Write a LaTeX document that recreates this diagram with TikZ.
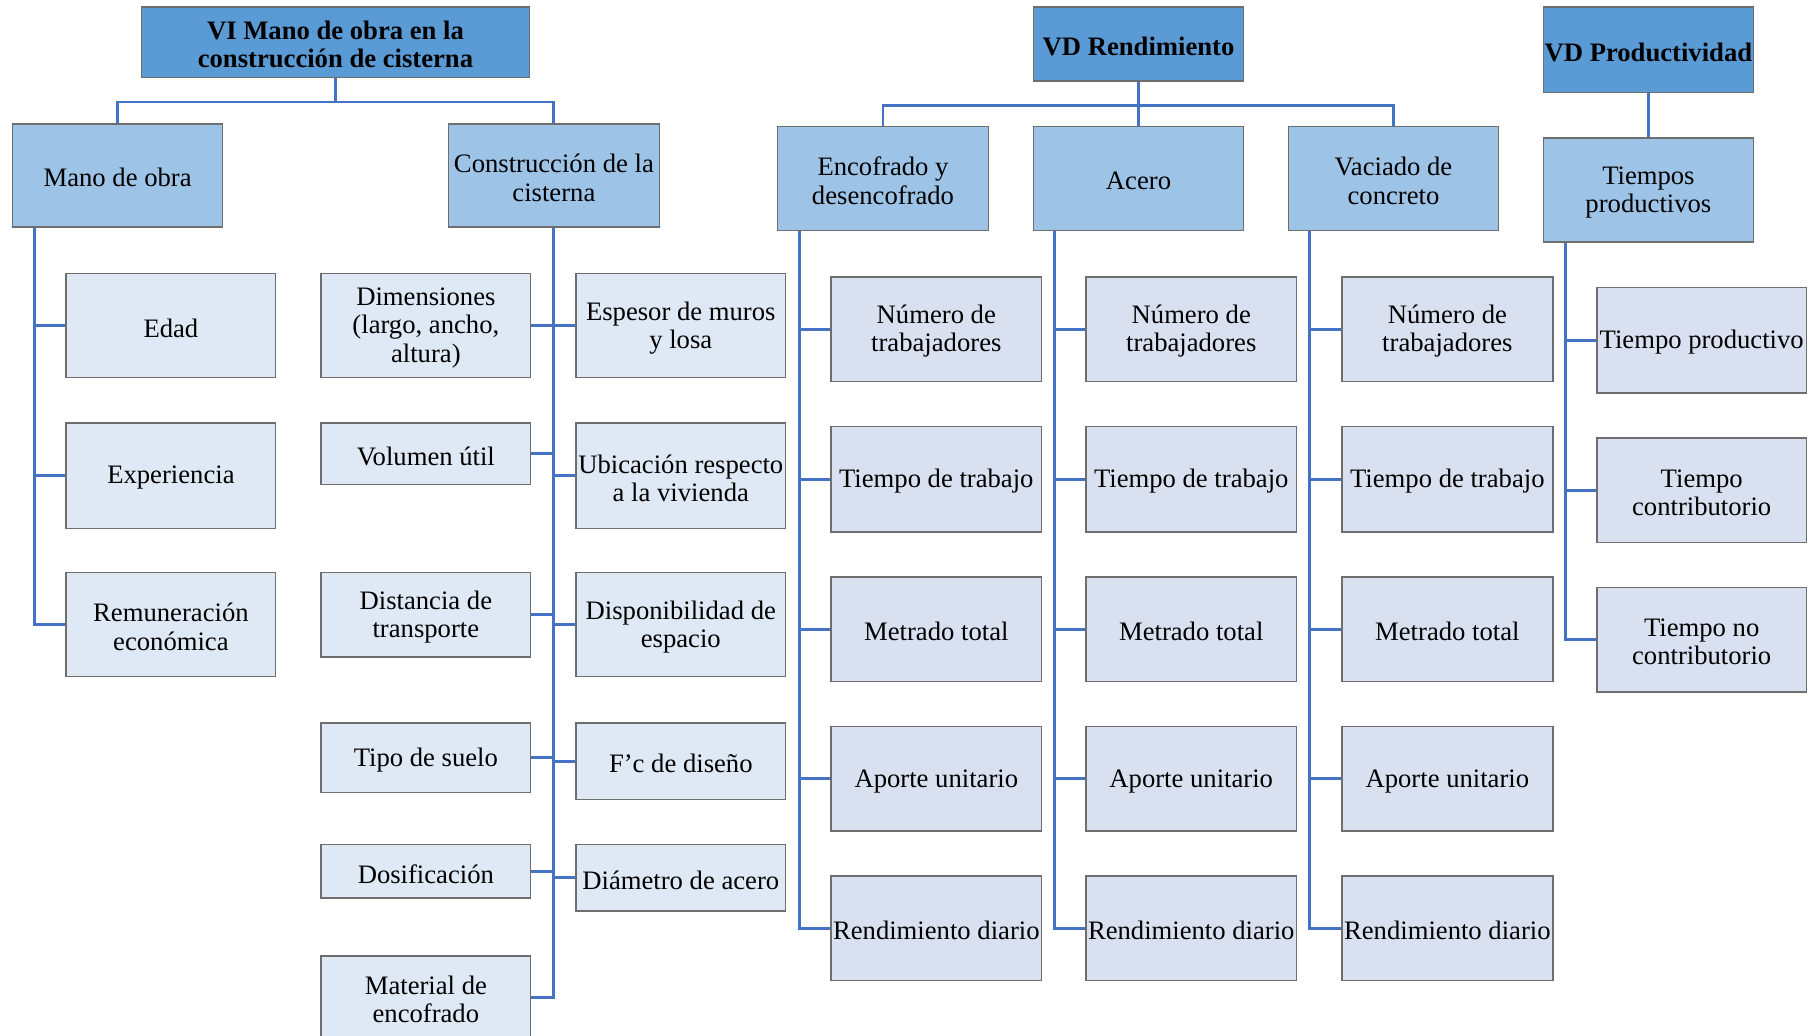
\documentclass[tikz,border=0pt]{standalone}
\usepackage{fontspec}
\setmainfont{Liberation Serif}
\usetikzlibrary{backgrounds}
\definecolor{titlefill}{HTML}{5B9BD5}
\definecolor{midfill}{HTML}{9DC3E6}
\definecolor{leafa}{HTML}{DEE9F5}
\definecolor{leafb}{HTML}{D9E0F0}
\definecolor{bordergray}{HTML}{6E6E6E}
\definecolor{lineblue}{HTML}{4472C4}
\newcommand\mybox[7]{\node[#2, minimum width={(#5-#3)*0.5pt}, minimum height={(#6-#4)*0.5pt},
  label={[boxtext]center:{#7}}] (#1) at ({(#3+#5)/2},{(#4+#6)/2}) {};}
\begin{document}
\begin{tikzpicture}[x=0.5pt,y=-0.5pt,
  boxtext/.style={inner sep=0pt, align=center, yshift=-1pt, font=\fontsize{11.5}{12.2}\selectfont},
  base/.style={draw=bordergray, line width=0.6pt, inner sep=0pt, outer sep=0pt},
  titlebox/.style={base, fill=titlefill},
  midbox/.style={base, fill=midfill},
  leafA/.style={base, fill=leafa},
  leafB/.style={base, fill=leafb},
  conn/.style={draw=lineblue, line width=1.25pt}]
\useasboundingbox (0,0) rectangle (1568,894);
\clip (0,0) rectangle (1568,894);
% titles
\mybox{vi}{titlebox}{122}{6}{457}{67}{\textbf{VI Mano de obra en la}\\\textbf{construcción de cisterna}}
\mybox{vdr}{titlebox}{892}{6}{1073}{70}{\textbf{VD Rendimiento}}
\mybox{vdp}{titlebox}{1332}{6}{1513}{80}{\textbf{VD Productividad}}
% level 2
\mybox{mano}{midbox}{11}{107}{192}{196}{Mano de obra}
\mybox{cons}{midbox}{387}{107}{569}{196}{Construcción de la\\cisterna}
\mybox{enc}{midbox}{671}{109}{853}{199}{Encofrado y\\desencofrado}
\mybox{ace}{midbox}{892}{109}{1073}{199}{Acero}
\mybox{vac}{midbox}{1112}{109}{1293}{199}{Vaciado de\\concreto}
\mybox{tp}{midbox}{1332}{119}{1513}{209}{Tiempos\\productivos}
% Mano de obra children
\mybox{edad}{leafA}{57}{236}{238}{326}{Edad}
\mybox{exp}{leafA}{57}{365}{238}{456}{Experiencia}
\mybox{rem}{leafA}{57}{494}{238}{584}{Remuneración\\económica}
% Construccion children left
\mybox{dim}{leafA}{277}{236}{458}{326}{Dimensiones\\(largo, ancho,\\altura)}
\mybox{vol}{leafA}{277}{365}{458}{418}{Volumen útil}
\mybox{dist}{leafA}{277}{494}{458}{567}{Distancia de\\transporte}
\mybox{suelo}{leafA}{277}{624}{458}{684}{Tipo de suelo}
\mybox{dos}{leafA}{277}{729}{458}{775}{Dosificación}
\mybox{mat}{leafA}{277}{825}{458}{896}{Material de\\encofrado}
% Construccion children right
\mybox{esp}{leafA}{497}{236}{678}{326}{Espesor de muros\\y losa}
\mybox{ubi}{leafA}{497}{365}{678}{456}{Ubicación respecto\\a la vivienda}
\mybox{disp}{leafA}{497}{494}{678}{584}{Disponibilidad de\\espacio}
\mybox{fc}{leafA}{497}{624}{678}{690}{F’c de diseño}
\mybox{diam}{leafA}{497}{729}{678}{786}{Diámetro de acero}
% Rendimiento children
\foreach \p/\xa in {e/717,a/937,v/1158}{
  \pgfmathsetmacro\xb{\xa+182}
  \mybox{\p1}{leafB}{\xa}{239}{\xb}{329}{Número de\\trabajadores}
  \mybox{\p2}{leafB}{\xa}{368}{\xb}{459}{Tiempo de trabajo}
  \mybox{\p3}{leafB}{\xa}{498}{\xb}{588}{Metrado total}
  \mybox{\p4}{leafB}{\xa}{627}{\xb}{717}{Aporte unitario}
  \mybox{\p5}{leafB}{\xa}{756}{\xb}{846}{Rendimiento diario}
}
% Productividad children
\mybox{t1}{leafB}{1378}{248}{1559}{339}{Tiempo productivo}
\mybox{t2}{leafB}{1378}{378}{1559}{468}{Tiempo\\contributorio}
\mybox{t3}{leafB}{1378}{507}{1559}{597}{Tiempo no\\contributorio}
\begin{scope}[on background layer]
\draw[conn] (vi.south) -- ++(0,21) -| (mano.north);
\draw[conn] (vi.south) -- ++(0,21) -| (cons.north);
\foreach \c in {edad,exp,rem} \draw[conn] ([xshift=9.5pt]mano.south west) |- (\c.west);
\foreach \c in {dim,vol,dist,suelo,dos,mat} \draw[conn] (cons.south) |- (\c.east);
\foreach \c in {esp,ubi,disp,fc,diam} \draw[conn] (cons.south) |- (\c.west);
\foreach \c in {enc,ace,vac} \draw[conn] (vdr.south) -- ++(0,21) -| (\c.north);
\foreach \i in {1,...,5}{
  \draw[conn] ([xshift=9.5pt]enc.south west) |- (e\i.west);
  \draw[conn] ([xshift=9pt]ace.south west) |- (a\i.west);
  \draw[conn] ([xshift=9pt]vac.south west) |- (v\i.west);
}
\draw[conn] (vdp.south) -- (tp.north);
\foreach \c in {t1,t2,t3} \draw[conn] ([xshift=9.5pt]tp.south west) |- (\c.west);
\end{scope}
\end{tikzpicture}
\end{document}
